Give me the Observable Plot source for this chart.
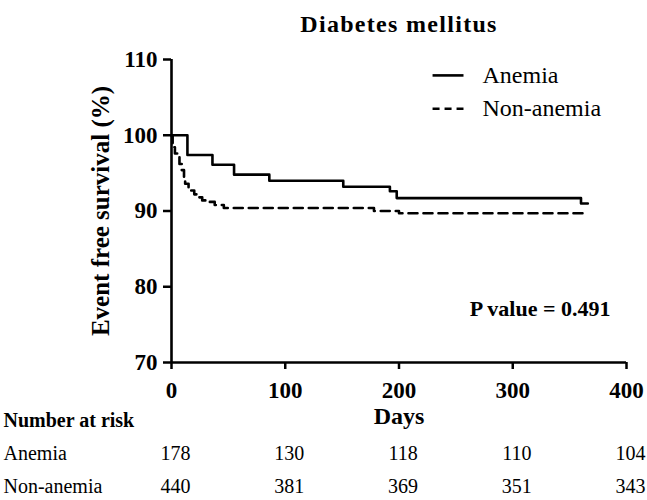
<!DOCTYPE html>
<html>
<head>
<meta charset="utf-8">
<script src="https://cdn.jsdelivr.net/npm/d3@7"></script>
<script src="https://cdn.jsdelivr.net/npm/@observablehq/plot@0.6"></script>
<style>
  body { margin: 0; background: white; }
</style>
</head>
<body>
<div id="chart"></div>
<script>
// ---- data ----
const title = "Diabetes mellitus";
const seriesNames = ["Anemia", "Non-anemia"];

const anemiaDays = [0, 14, 36, 55, 86, 151, 192, 198, 360, 366];
const anemiaSurvival = [100, 97.4, 96.1, 94.8, 94.0, 93.2, 92.6, 91.7, 91.0, 91.0];

const nonAnemiaDays = [0, 1, 3, 5, 7, 9, 11, 12, 15, 17, 20, 23, 27, 31, 38, 46, 178, 200, 366];
const nonAnemiaSurvival = [100, 98.4, 97.6, 97.1, 96.2, 95.4, 94.3, 93.6, 93.0, 92.7, 92.2, 91.8, 91.4, 91.2, 90.8, 90.4, 90.0, 89.7, 89.7];

const xTicks = [0, 100, 200, 300, 400];
const yTicks = [70, 80, 90, 100, 110];

const riskDays = [0, 100, 200, 300, 400];
const anemiaRisk = [178, 130, 118, 110, 104];
const nonAnemiaRisk = [440, 381, 369, 351, 343];

const pValueText = "P value = 0.491";
const xLabel = "Days";
const yLabel = "Event free survival (%)";
const riskHeader = "Number at risk";

// ---- build tables ----
const toRows = (days, vals) => days.map((d, i) => ({day: d, surv: vals[i]}));
const anemiaRows = toRows(anemiaDays, anemiaSurvival);
const nonAnemiaRows = toRows(nonAnemiaDays, nonAnemiaSurvival);
const riskRows = (vals) => riskDays.map((d, i) => ({day: d, n: String(vals[i])}));

const legend = seriesNames.map((name, i) => ({name, i}));
const legendY = d => 107.9 - d.i * 4.4;

const chart = Plot.plot({
  width: 647,
  height: 500,
  marginLeft: 171,
  marginRight: 21,
  marginTop: 59,
  marginBottom: 138,
  x: {domain: [0, 400]},
  y: {domain: [70, 110]},
  style: {
    fontFamily: "'Liberation Serif', 'Times New Roman', serif",
    fontSize: "20px",
    background: "white",
    color: "black",
    overflow: "visible"
  },
  marks: [
    Plot.axisX({ticks: xTicks, tickSize: 7, tickPadding: 12, fontSize: 23, fontWeight: "bold",
                strokeWidth: 2.5, label: null}),
    Plot.axisY({ticks: yTicks, tickSize: 8, tickPadding: 6, fontSize: 23, fontWeight: "bold",
                strokeWidth: 2.5, label: null}),
    Plot.ruleX([0], {strokeWidth: 2.6}),
    Plot.ruleY([70], {strokeWidth: 2.6}),

    Plot.line(anemiaRows, {x: "day", y: "surv", curve: "step-after", stroke: "black", strokeWidth: 2.6}),
    Plot.line(nonAnemiaRows, {x: "day", y: "surv", curve: "step-after", stroke: "black", strokeWidth: 2.6,
                              strokeDasharray: "9,6"}),

    // legend
    Plot.link(legend.filter(d => d.i === 0), {x1: 229.5, x2: 256.7, y1: legendY, y2: legendY,
                       stroke: "black", strokeWidth: 2.6}),
    Plot.link(legend.filter(d => d.i === 1), {x1: 229.5, x2: 256.7, y1: legendY, y2: legendY,
                       stroke: "black", strokeWidth: 2.6, strokeDasharray: "7,5"}),
    Plot.text(legend, {x: 273.4, y: legendY, text: "name", textAnchor: "start", fontSize: 24}),

    // title
    Plot.text([title], {frameAnchor: "top", dy: -45, fontSize: 24, fontWeight: "bold"}),

    // axis titles
    Plot.text([yLabel], {frameAnchor: "left", textAnchor: "middle", dx: -71, rotate: -90,
                         fontSize: 25, fontWeight: "bold"}),
    Plot.text([xLabel], {frameAnchor: "bottom", dy: 61, fontSize: 24, fontWeight: "bold"}),

    // p value
    Plot.text([pValueText], {frameAnchor: "bottom-right", dx: -16, dy: -47, textAnchor: "end",
                              fontSize: 22, fontWeight: "bold"}),

    // number at risk table
    Plot.text([riskHeader], {frameAnchor: "bottom-left", dx: -168, dy: 64.5, textAnchor: "start",
                             fontSize: 20, fontWeight: "bold"}),
    Plot.text([seriesNames[0]], {frameAnchor: "bottom-left", dx: -168, dy: 97, textAnchor: "start", fontSize: 20}),
    Plot.text([seriesNames[1]], {frameAnchor: "bottom-left", dx: -168, dy: 130, textAnchor: "start", fontSize: 20}),
    Plot.text(riskRows(anemiaRisk), {x: "day", text: "n", frameAnchor: "bottom", dy: 97, dx: 4, fontSize: 20}),
    Plot.text(riskRows(nonAnemiaRisk), {x: "day", text: "n", frameAnchor: "bottom", dy: 130, dx: 4, fontSize: 20})
  ]
});

d3.select(chart).selectAll("text")
  .filter(function() { return this.textContent === title; })
  .attr("letter-spacing", "1.3px");

document.getElementById("chart").appendChild(chart);
</script>
</body>
</html>
